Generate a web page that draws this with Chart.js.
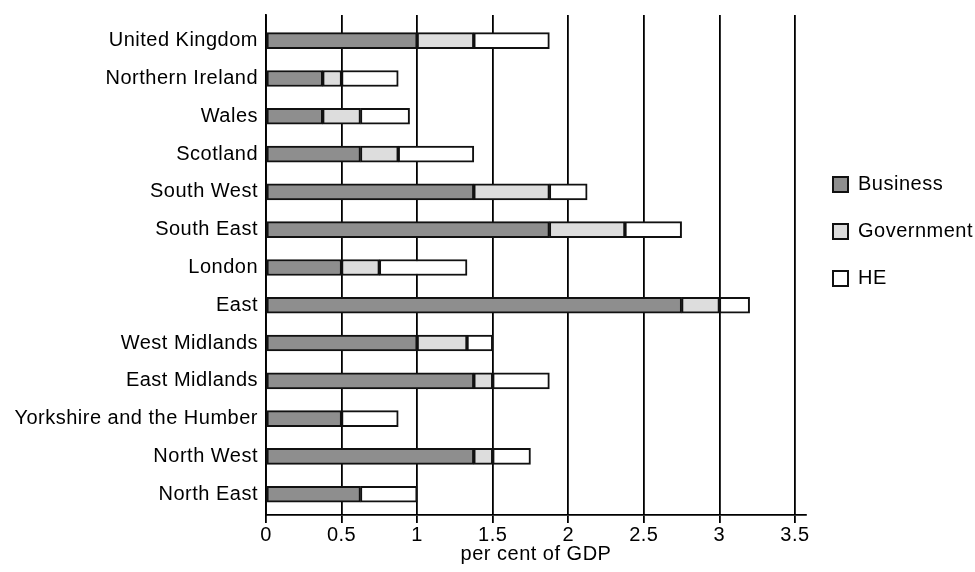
<!DOCTYPE html>
<html><head><meta charset="utf-8">
<script src="https://cdn.jsdelivr.net/npm/chart.js@4/dist/chart.umd.min.js"></script>
<style>html,body{margin:0;padding:0;background:#fff}#wrap{width:975px;height:572px;position:relative}</style>
</head><body><div id="wrap"><canvas id="c"></canvas></div>
<script>
const categories = ['United Kingdom','Northern Ireland','Wales','Scotland','South West','South East','London','East','West Midlands','East Midlands','Yorkshire and the Humber','North West','North East'];
const business   = [1.0, 0.375, 0.375, 0.625, 1.375, 1.875, 0.5, 2.75, 1.0, 1.375, 0.5, 1.375, 0.625];
const government = [0.375, 0.125, 0.25, 0.25, 0.5, 0.5, 0.25, 0.25, 0.33, 0.125, 0, 0.125, 0];
const he         = [0.5, 0.375, 0.325, 0.5, 0.25, 0.375, 0.58, 0.2, 0.17, 0.375, 0.375, 0.25, 0.375];
const xTickValues = [0, 0.5, 1, 1.5, 2, 2.5, 3, 3.5];
const seriesNames = ['Business', 'Government', 'HE'];
const axisTitle = 'per cent of GDP';

const FONT = '"Liberation Sans", Arial, Helvetica, sans-serif';
const spacing = {
  id: 'spacing',
  beforeUpdate(c) { c.ctx.letterSpacing = '0.5px'; },
  beforeDraw(c) { c.ctx.letterSpacing = '0.5px'; }
};
const toPoints = arr => arr.map((v, i) => ({x: v, y: i}));

new Chart(document.getElementById('c'), {
  type: 'bar',
  data: {
    datasets: [
      {label: seriesNames[0], data: toPoints(business), backgroundColor: '#8e8e8e'},
      {label: seriesNames[1], data: toPoints(government), backgroundColor: '#dddddd'},
      {label: seriesNames[2], data: toPoints(he), backgroundColor: '#ffffff'}
    ]
  },
  options: {
    indexAxis: 'y',
    responsive: true,
    maintainAspectRatio: false,
    animation: false,
    devicePixelRatio: 1,
    layout: {padding: {top: 15, left: 0, right: 0, bottom: 0}},
    datasets: {bar: {barThickness: 16, borderWidth: 2, borderColor: '#111', borderSkipped: false}},
    scales: {
      x: {
        type: 'linear', stacked: true, min: 0, max: 3.573,
        afterBuildTicks(s) { s.ticks = xTickValues.map(v => ({value: v})); },
        grid: {color: '#000', lineWidth: 1.8, tickLength: 8, drawTicks: true},
        border: {display: true, color: '#000', width: 1.8},
        ticks: {padding: 0, color: '#000', font: {family: FONT, size: 20}, callback: (v) => String(v)},
        title: {display: true, text: axisTitle, color: '#000', font: {family: FONT, size: 20}, padding: {top: 0, bottom: 6}},
        afterFit(s) { s.height = 57; s.paddingLeft = 0; s.paddingRight = 0; }
      },
      y: {
        type: 'linear', stacked: true, reverse: true, offset: false, min: -0.68, max: 12.55,
        afterBuildTicks(s) { s.ticks = categories.map((_, i) => ({value: i})); },
        grid: {display: false, drawTicks: false, offset: false},
        border: {display: true, color: '#000', width: 1.8},
        ticks: {padding: 8, color: '#000', font: {family: FONT, size: 20}, callback: (v) => categories[v]},
        afterFit(s) { s.width = 266; s.paddingTop = 0; s.paddingBottom = 0; }
      }
    },
    plugins: {
      legend: {
        position: 'right', align: 'start', maxWidth: 169,
        title: {display: true, text: ' ', font: {size: 10, lineHeight: 1}, padding: {top: 122.5, bottom: 0}},
        labels: {boxWidth: 15, boxHeight: 15, padding: 27, color: '#000', font: {family: FONT, size: 20}}
      },
      tooltip: {enabled: false}
    }
  },
  plugins: [spacing]
});
</script>
</body></html>
